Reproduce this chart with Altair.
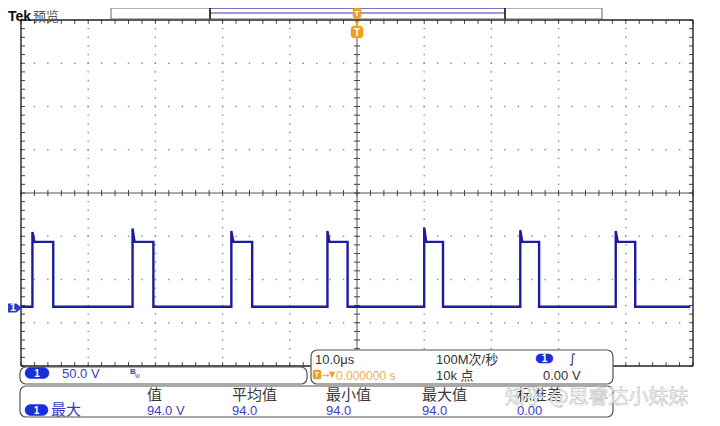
import altair as alt
import numpy as np
import pandas as pd

# ---------------- values ----------------
time_per_div_us = 10.0          # 10.0 us / div
volts_per_div = 50.0            # 50.0 V / div
ground_offset_div = -2.66       # channel-1 ground marker, divisions from centre

rise_us = [-48.3, -33.4, -18.7, -4.4, 10.0, 24.3, 38.5]
fall_us = [-45.2, -30.3, -15.6, -1.4, 12.8, 27.1, 41.4]
spike_v = [88, 92, 89, 89, 93, 90, 89]
high_v = 76.5
low_v = 1.5
trace_start_us, trace_end_us = -50.0, 49.6

v_grid_us = [-40, -30, -20, -10, 10, 20, 30, 40]
h_grid_div = [-3, -2, -1, 1, 2, 3]

meas_headers = ["值", "平均值", "最小值", "最大值", "标准差"]
meas_values = ["94.0 V", "94.0", "94.0", "94.0", "0.00"]

# ---------------- tables built from the values ----------------
rows = [(trace_start_us, low_v)]
for r, f, s in zip(rise_us, fall_us, spike_v):
    rows += [(r, low_v), (r, s), (r + 0.3, high_v), (f, high_v), (f, low_v)]
rows.append((trace_end_us, low_v))
trace = pd.DataFrame(rows, columns=["t", "v"])
trace["i"] = range(len(trace))
trace["div"] = ground_offset_div + trace["v"] / volts_per_div

dots = []
for t in v_grid_us:
    for d in np.arange(-4, 4.001, 0.2):
        dots.append((t, d))
for d in h_grid_div:
    for t in np.arange(-50, 50.001, 2):
        dots.append((t, d))
dots = pd.DataFrame(dots, columns=["t", "div"])

TX, TY = 0.6, 0.09  # tick lengths in data units
ticks = []
for t in np.arange(-50, 50.001, 2):
    ticks += [(t, t, 4, 4 - TY), (t, t, -4, -4 + TY), (t, t, -0.07, 0.07)]
for d in np.arange(-4, 4.001, 0.2):
    ticks += [(-50, -50 + TX, d, d), (50, 50 - TX, d, d), (-0.45, 0.45, d, d)]
ticks = pd.DataFrame(ticks, columns=["x1", "x2", "y1", "y2"])
center = pd.DataFrame([(-50, 50, 0, 0), (0, 0, -4, 4)], columns=["x1", "x2", "y1", "y2"])
frame = pd.DataFrame([(-50, 50, 4, 4), (-50, 50, -4, -4), (-50, -50, -4, 4), (50, 50, -4, 4)],
                     columns=["x1", "x2", "y1", "y2"])
ground = pd.DataFrame({"div": [ground_offset_div]})
one = pd.DataFrame({"k": [0]})

xs = alt.Scale(domain=[-50, 50], nice=False, zero=False)
ys = alt.Scale(domain=[-4, 4], nice=False, zero=False)

TRACE = "#1c1c9e"
BADGE = "#1a2ed6"
BTXT = "#3b3bc8"
DARK = "#333333"
ORANGE = "#f0a020"
LAT = "Liberation Sans, Noto Sans CJK SC"
CJK = "Noto Sans CJK SC"


def segs(df, color, width):
    return alt.Chart(df).mark_rule(color=color, strokeWidth=width).encode(
        x=alt.X("x1:Q", scale=xs, axis=None), x2="x2:Q",
        y=alt.Y("y1:Q", scale=ys, axis=None), y2="y2:Q")


def box(x0, x1, y0, y1, fill="white", stroke="#555555", r=6, sw=1.2):
    return alt.Chart(one).mark_rect(fill=fill, stroke=stroke, strokeWidth=sw, cornerRadius=r).encode(
        x=alt.value(x0), x2=alt.value(x1), y=alt.value(y0), y2=alt.value(y1))


def label(s, x, y, size=13, color=DARK, font=LAT, weight="normal", align="left", **kw):
    return alt.Chart(one).mark_text(text=s, fontSize=size, color=color, font=font, fontWeight=weight,
                                    align=align, baseline="middle", **kw).encode(
        x=alt.value(x), y=alt.value(y))


def badge(x0, x1, y0, y1):
    return alt.layer(
        box(x0, x1, y0, y1, fill=BADGE, stroke=BADGE, r=(y1 - y0) / 2, sw=0.5),
        label("1", (x0 + x1) / 2, (y0 + y1) / 2 + 0.5, size=10, color="white", weight="bold", align="center"))


layers = []
layers.append(alt.Chart(dots).mark_square(size=2, color="#8c8c8c", opacity=1).encode(
    x=alt.X("t:Q", scale=xs, axis=None), y=alt.Y("div:Q", scale=ys, axis=None)))
layers.append(segs(center, "#555555", 1))
layers.append(segs(ticks, "#444444", 1))
layers.append(segs(frame, "#222222", 1.4))
layers.append(alt.Chart(trace).mark_line(color=TRACE, strokeWidth=2.4, interpolate="linear").encode(
    x=alt.X("t:Q", scale=xs, axis=None), y=alt.Y("div:Q", scale=ys, axis=None), order="i:Q"))

# ground marker
layers.append(alt.Chart(ground).mark_point(
    shape="M-1,-0.55L0.3,-0.55L1,0L0.3,0.55L-1,0.55Z", size=169, filled=True, fill="#2a3cc8", opacity=1,
    stroke="#2a3cc8").encode(x=alt.value(-7), y=alt.Y("div:Q", scale=ys, axis=None)))
layers.append(alt.Chart(ground).mark_text(text="1", fontSize=10, color="white", fontWeight="bold", font=LAT,
                                          baseline="middle").encode(
    x=alt.value(-8), y=alt.Y("div:Q", scale=ys, axis=None)))

# header: Tek 预览 + overview bar
layers.append(label("Tek", -13, -3.5, size=14, color="#111111", weight="bold"))
layers.append(label("预览", 12, -3, size=13, color="#555555", font=CJK))
layers.append(box(90, 581, -12, -1, fill="white", stroke="#666666", r=0, sw=1))
layers.append(alt.Chart(one).mark_rule(color="#3a3ab8", strokeWidth=1.2).encode(
    x=alt.value(189), x2=alt.value(484), y=alt.value(-7)))
layers.append(alt.Chart(one).mark_rule(color="#3a3ab8", strokeWidth=1).encode(
    x=alt.value(189), x2=alt.value(484), y=alt.value(-12)))
for bx in (189, 484):
    layers.append(alt.Chart(one).mark_rule(color="#111111", strokeWidth=1.6).encode(
        x=alt.value(bx), y=alt.value(-12), y2=alt.value(-1)))
# trigger markers
layers.append(box(332, 340, -12, -2, fill=ORANGE, stroke=ORANGE, r=2, sw=0.5))
layers.append(label("T", 336, -6.5, size=8, color="white", weight="bold", align="center"))
layers.append(alt.Chart(one).mark_point(shape="triangle-down", size=30, filled=True, color=ORANGE, opacity=1).encode(
    x=alt.value(336), y=alt.value(3)))
layers.append(box(330, 342, 6, 18, fill=ORANGE, stroke=ORANGE, r=3, sw=0.5))
layers.append(label("T", 336, 12.5, size=10, color="white", weight="bold", align="center"))

# channel box
layers.append(box(-1, 286, 347, 364))
layers.append(badge(4, 28, 347.5, 358.5))
layers.append(label("50.0 V", 41, 353.5, size=13, color=BTXT))
layers.append(label("B", 109, 352, size=8, color=BTXT, weight="bold"))
layers.append(label("W", 114, 356, size=5, color=BTXT))

# timebase / trigger box
layers.append(box(290, 592, 330, 364))
layers.append(label("10.0μs", 294, 340, size=13, color=DARK))
layers.append(label("100M次/秒", 415, 340, size=13, color=DARK))
layers.append(badge(515, 532, 334, 343))
layers.append(label("∫", 548, 339, size=13, color=DARK, font="DejaVu Sans"))
layers.append(box(292, 300, 350, 359, fill=ORANGE, stroke=ORANGE, r=1.5, sw=0.5))
layers.append(label("T", 296, 355, size=7, color="white", weight="bold", align="center"))
layers.append(label("→", 301, 354.5, size=9, color=ORANGE, font="DejaVu Sans"))
layers.append(label("▼", 308, 354.5, size=8, color=ORANGE, font="DejaVu Sans"))
layers.append(label("0.000000 s", 315, 355.5, size=12, color="#f2ad55"))
layers.append(label("10k 点", 415, 356, size=13, color=DARK))
layers.append(label("0.00 V", 522, 355.5, size=13, color=DARK))

# measurement box
layers.append(box(-1, 592, 366, 397))
meas_x = [126, 211, 305, 401, 496]
for hx, h, v in zip(meas_x, meas_headers, meas_values):
    layers.append(label(h, hx, 375, size=15, color="#3a3a3a", font=CJK))
    layers.append(label(v, hx, 390.5, size=13, color=BTXT))
layers.append(badge(4, 27, 384.5, 395.5))
layers.append(label("最大", 30, 389.5, size=15, color=BTXT, font=CJK))

# watermark
layers.append(label("知乎 @思睿达小妹妹", 484, 378, size=20, color="#ffffff", font=CJK,
                    stroke="#c4c4c4", strokeWidth=0.7, opacity=0.95))

chart = alt.layer(*layers).properties(
    width=672, height=346,
    padding={"left": 13, "top": 12, "right": 19, "bottom": 52},
    autosize=alt.AutoSizeParams(type="none"),
    background="white",
).configure_view(stroke=None)

chart.save("out.html", embed_options={"renderer": "svg", "actions": False})
